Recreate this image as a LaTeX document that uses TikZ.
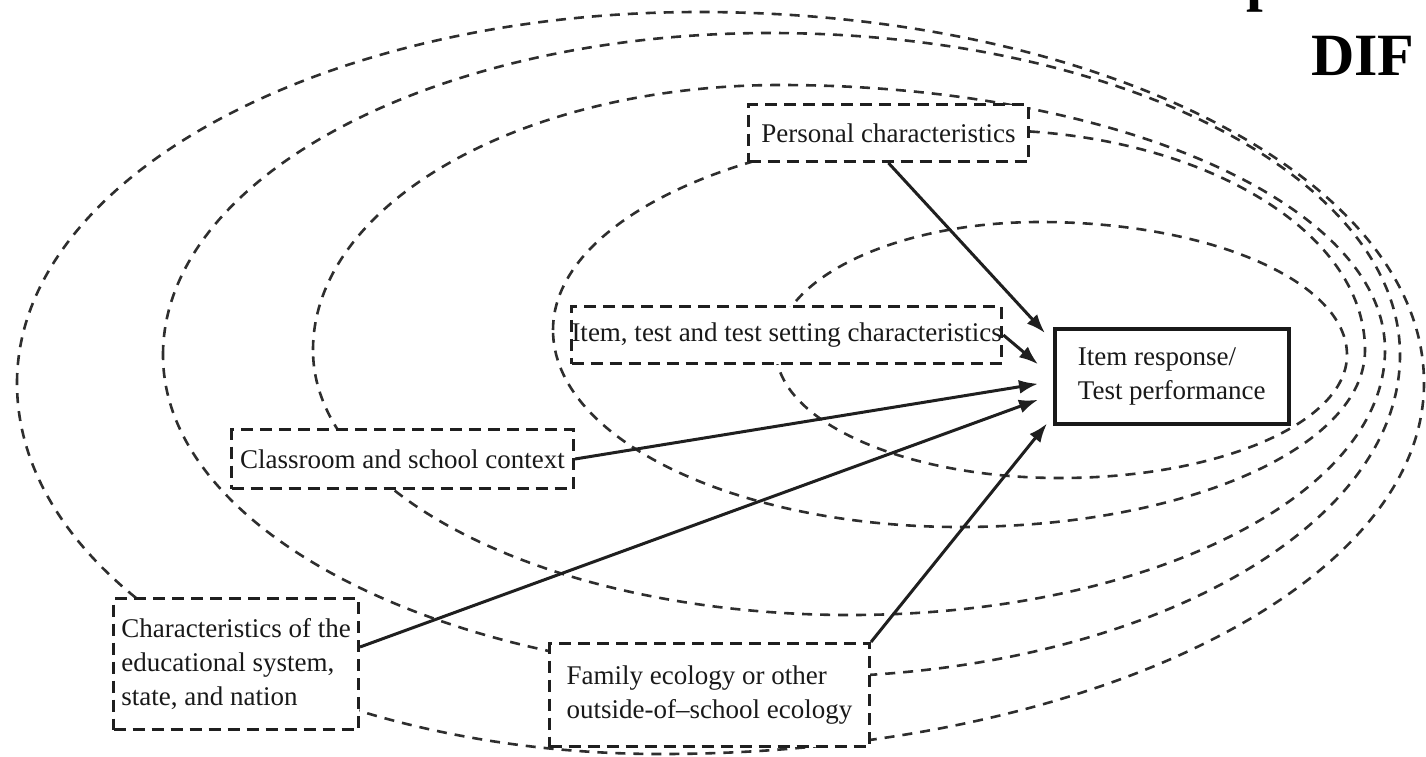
\documentclass[tikz,border=0pt]{standalone}
\usepackage{fontspec}
\setmainfont{Liberation Serif}
\usetikzlibrary{arrows.meta}
% closed egg-shaped ring through left, top, right and bottom extreme points
\newcommand{\ringpath}[8]{%
  \draw[ring] (#1,#2) .. controls (#1,{#2-0.5523*(#2-#4)}) and ({#3-0.5523*(#3-#1)},#4) .. (#3,#4)
   .. controls ({#3+0.5523*(#5-#3)},#4) and (#5,{#6-0.5523*(#6-#4)}) .. (#5,#6)
   .. controls (#5,{#6+0.5523*(#8-#6)}) and ({#7+0.5523*(#5-#7)},#8) .. (#7,#8)
   .. controls ({#7-0.5523*(#7-#1)},#8) and (#1,{#2+0.5523*(#8-#2)}) .. (#1,#2) -- cycle;}
\tikzset{
  ring/.style={line width=2.6pt, dash pattern=on 10pt off 8pt, draw=black!82},
  dbox/.style={draw=black!88, line width=3pt, dash pattern=on 12pt off 7pt, fill=white,
    inner sep=0pt, anchor=north west, font=\fontsize{27}{34}\selectfont, text=black!90},
  sbox/.style={draw=black!90, line width=3.5pt, fill=white, inner sep=0pt, anchor=north west,
    font=\fontsize{27}{34}\selectfont, text=black!90},
  arr/.style={line width=3pt, draw=black!88, -{Latex[length=19pt,width=14pt]}},
  title/.style={font=\bfseries\fontsize{60}{60}\selectfont, inner sep=0pt, anchor=base west}
}
\begin{document}
\begin{tikzpicture}[x=1pt,y=-1pt]
\useasboundingbox (0,0) rectangle (1426,756);
% nested rings: left x,y / top x,y / right x,y / bottom x,y
\ringpath{17}{383}{699}{12}{1424}{383}{661}{754}
\ringpath{163}{355}{770}{33}{1400}{355}{800}{677}
\ringpath{313}{350}{780}{85}{1385}{350}{850}{615}
\ringpath{553}{330}{986}{130}{1365}{350}{960}{527}
\ringpath{776}{350}{1040}{222}{1347}{355}{1060}{478}
% boxes
\node[dbox, minimum width=280pt, minimum height=57pt] (pers) at (747,103) {Personal characteristics};
\node[dbox, minimum width=430pt, minimum height=57pt] (itest) at (570,305) {Item, test and test setting characteristics};
\node[sbox, minimum width=234pt, minimum height=95pt, align=left] (resp) at (1053,327) {Item response/\\Test performance};
\node[dbox, minimum width=342pt, minimum height=59pt] (class) at (230,428) {Classroom and school context};
\node[dbox, minimum width=245pt, minimum height=131pt, align=left] (char) at (112,597) {Characteristics of the\\educational system,\\state, and nation};
\node[dbox, minimum width=320pt, minimum height=103pt, align=left] (fam) at (548,642) {Family ecology or other\\outside-of–school ecology};
% arrows
\draw[arr] (pers.south) -- ([xshift=-8pt,yshift=-6pt]resp.north west);
\draw[arr] (itest.east) -- ([xshift=-15pt,yshift=12pt]resp.west);
\draw[arr] (class.east) -- ([xshift=-15pt,yshift=-7.5pt]resp.west);
\draw[arr] ([yshift=17pt]char.east) -- ([xshift=-15pt,yshift=-23.5pt]resp.west);
\draw[arr] (fam.north east) -- ([xshift=-6pt,yshift=2pt]resp.south west);
% title fragments
\node[title] (ptxt) at (1246,-1) {p};
\node[title] (dif) at (1311,75) {DIF};
\end{tikzpicture}
\end{document}
